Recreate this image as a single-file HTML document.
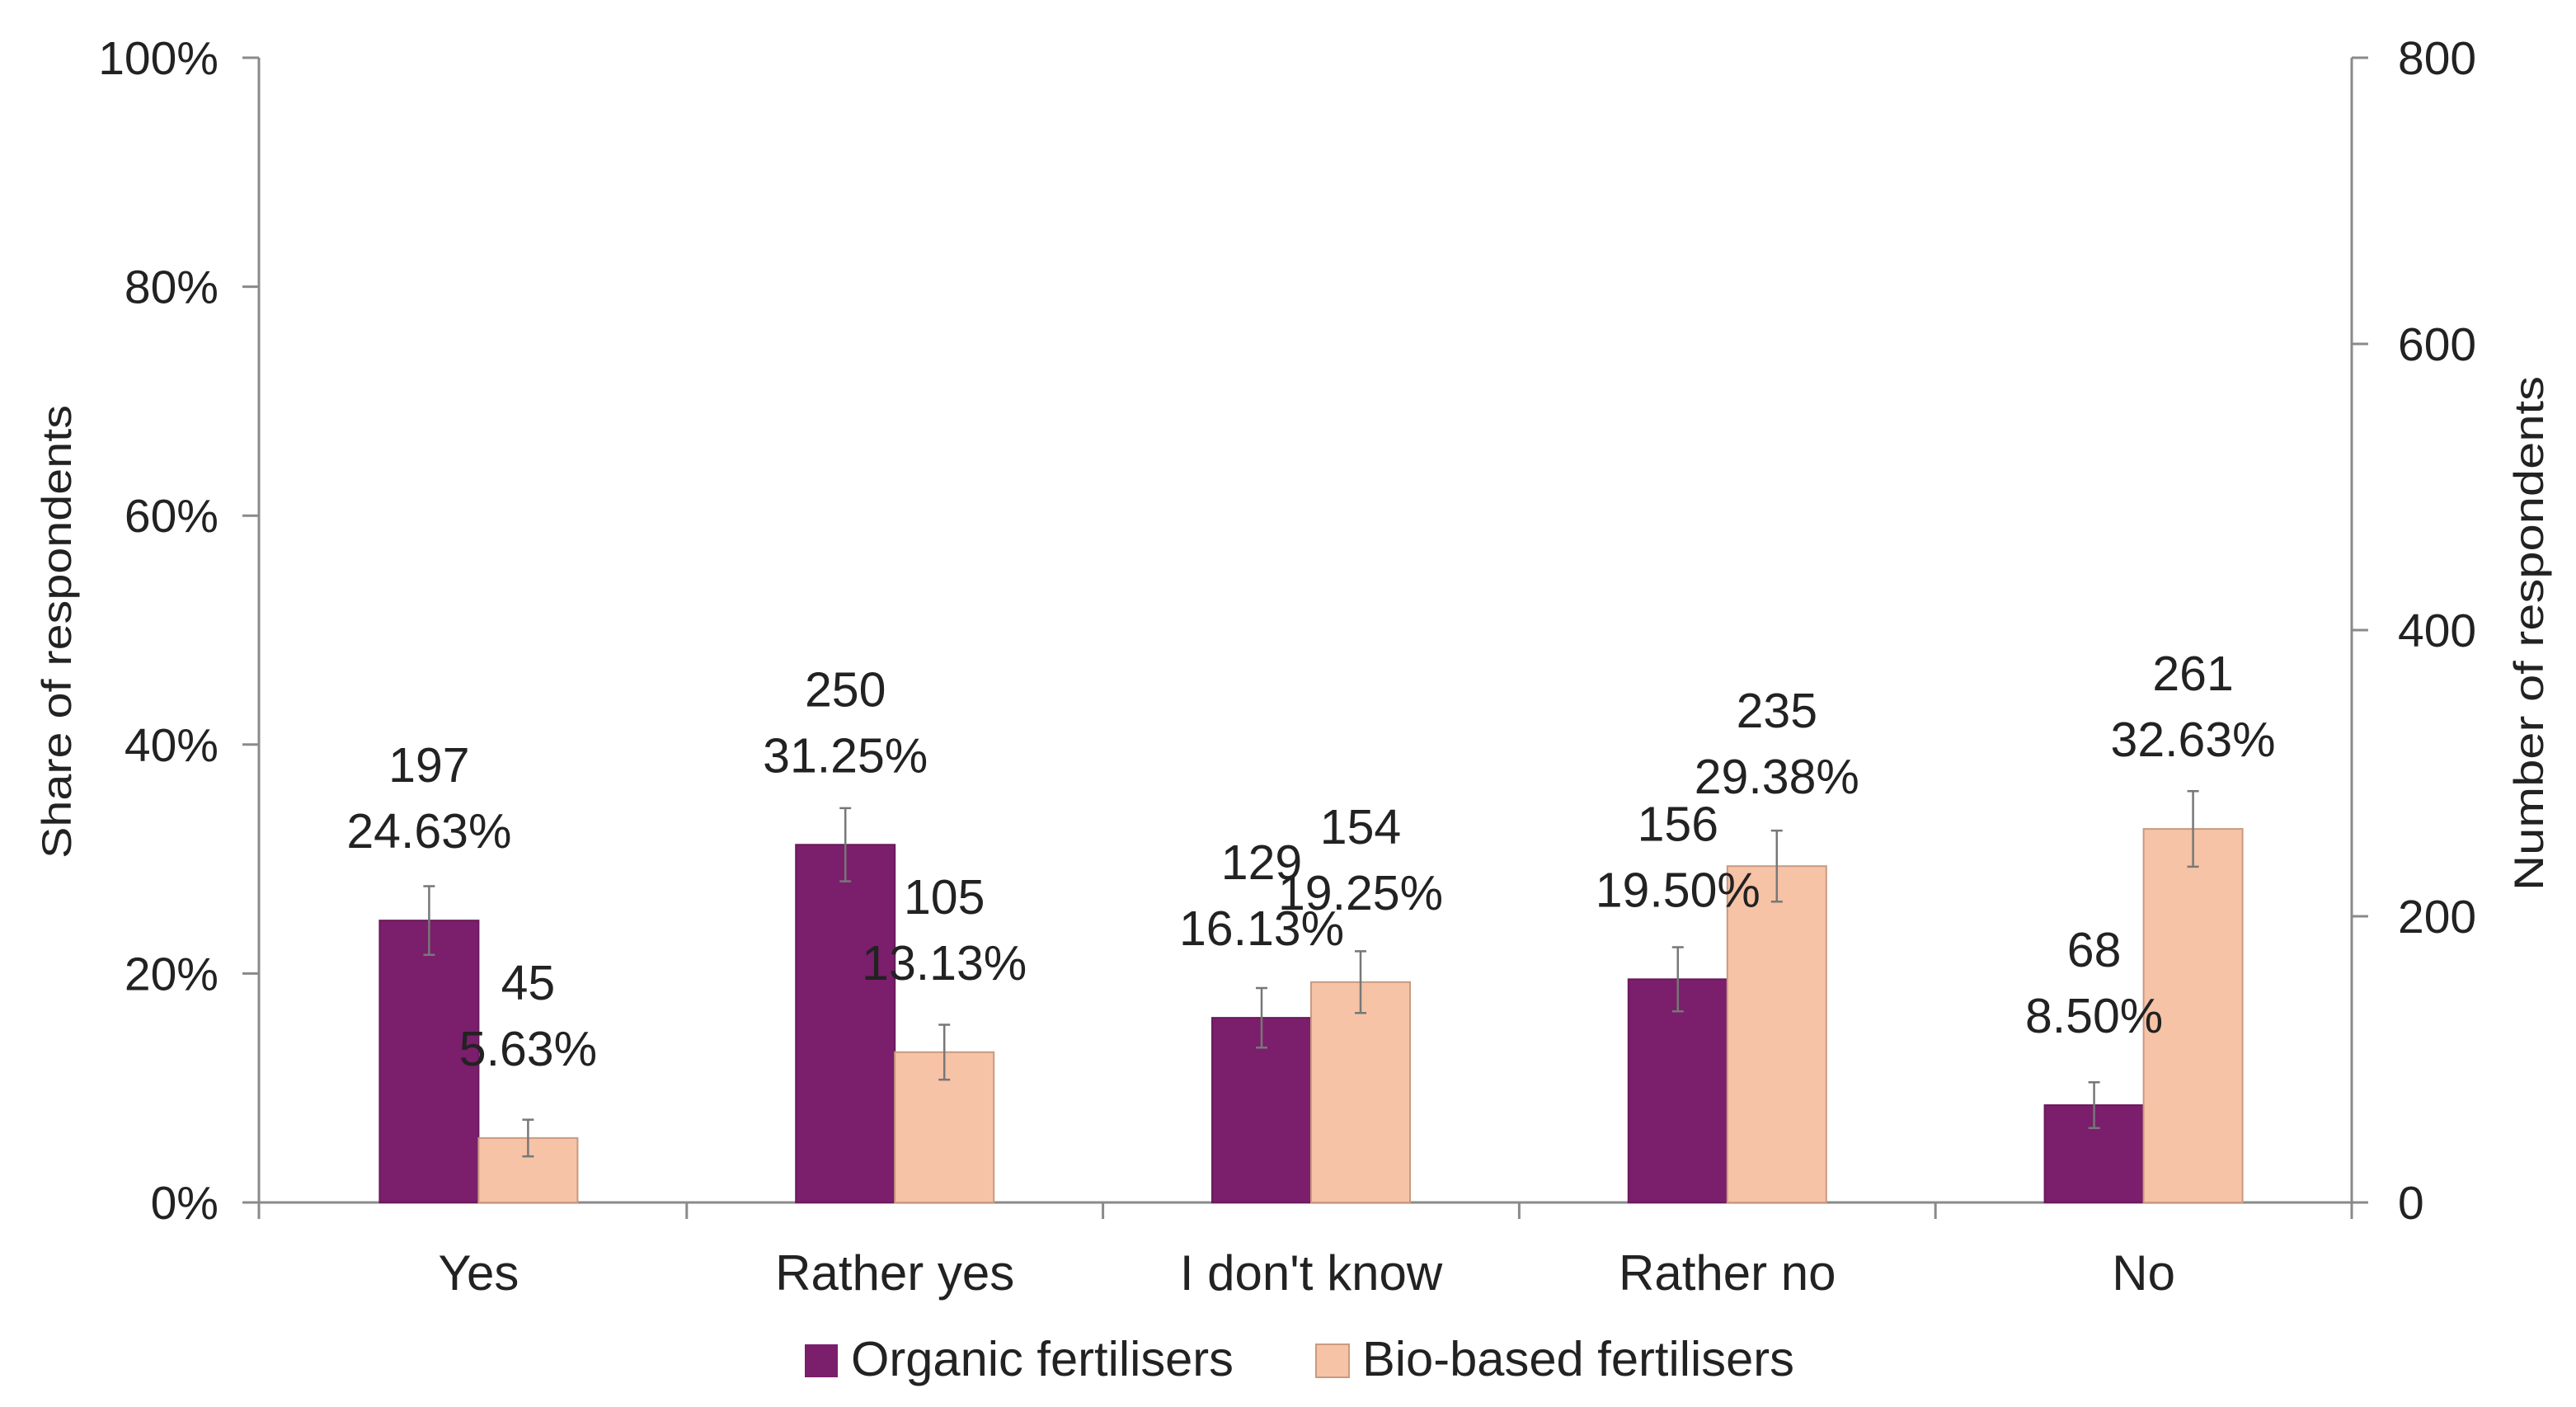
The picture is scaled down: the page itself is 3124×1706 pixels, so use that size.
<!DOCTYPE html>
<html><head><meta charset="utf-8"><style>
html,body{margin:0;padding:0;background:#fff;}
svg{display:block;font-family:"Liberation Sans",Arial,sans-serif;}
</style></head><body>
<svg id="chart" width="3124" height="1706" viewBox="0 0 3124 1706" xmlns="http://www.w3.org/2000/svg">
<rect x="0" y="0" width="3124" height="1706" fill="#fff"/>
<g id="grid"></g>
<g id="bars"></g>
<g id="labels"></g>
<text transform="translate(86,766) rotate(-90)" text-anchor="middle" font-size="50" fill="#222" textLength="550" lengthAdjust="spacingAndGlyphs">Share of respondents</text>
<text transform="translate(3084,768) rotate(-90)" text-anchor="middle" font-size="50" fill="#222" textLength="624" lengthAdjust="spacingAndGlyphs">Number of respondents</text>
<g>
<rect x="976" y="1630" width="40" height="40" fill="#7B1E6C"/>
<text x="1032" y="1668" font-size="59" fill="#222" textLength="464" lengthAdjust="spacingAndGlyphs">Organic fertilisers</text>
<rect x="1596" y="1630" width="40" height="40" fill="#F6C3A7" stroke="#c99a80" stroke-width="2"/>
<text x="1652" y="1668" font-size="59" fill="#222" textLength="524" lengthAdjust="spacingAndGlyphs">Bio-based fertilisers</text>
</g>
</svg>
<script>
const categories = ["Yes","Rather yes","I don't know","Rather no","No"];
const organicPct = [24.63,31.25,16.13,19.50,8.50];
const bioPct = [5.63,13.13,19.25,29.38,32.63];
const organicCount = [197,250,129,156,68];
const bioCount = [45,105,154,235,261];
const organicErr = [3.0,3.2,2.6,2.8,2.0];
const bioErr = [1.6,2.4,2.7,3.1,3.3];
const leftTicks = ["0%","20%","40%","60%","80%","100%"];
const leftTickVals = [0,20,40,60,80,100];
const rightTicks = ["0","200","400","600","800"];
const rightTickVals = [0,200,400,600,800];

const NS="http://www.w3.org/2000/svg";
const AXL=314,X0=328,X1=2852,Y0=1458,Y1=70;
const bandW=(X1-X0)/categories.length;
const barW=120;
const yPct=v=>Y0-(v/100)*(Y0-Y1);
const yCnt=v=>Y0-(v/800)*(Y0-Y1);
const xCenter=i=>X0+bandW*(i+0.5);
function mk(tag,attrs,parent,txt){const e=document.createElementNS(NS,tag);for(const k in attrs)e.setAttribute(k,attrs[k]);if(txt!==undefined)e.textContent=txt;parent.appendChild(e);return e;}
const grid=document.getElementById('grid'),bars=document.getElementById('bars'),labels=document.getElementById('labels');
const ax='#8a8a8a';
let e;
e=mk('line',{x1:AXL,y1:Y1,x2:AXL,y2:Y0+20,stroke:ax,'stroke-width':3},grid);


e=mk('line',{x1:X1,y1:Y1,x2:X1,y2:Y0+20,stroke:ax,'stroke-width':3},grid);


e=mk('line',{x1:AXL-20,y1:Y0,x2:X1+20,y2:Y0,stroke:ax,'stroke-width':3},grid);


leftTickVals.forEach((v,i)=>{const y=yPct(v);
 mk('line',{x1:AXL-20,y1:y,x2:AXL,y2:y,stroke:ax,'stroke-width':3},grid);
 e=mk('text',{x:265,y:y+20,'text-anchor':'end','font-size':57,fill:'#222'},labels,leftTicks[i]);
 
 
});
rightTickVals.forEach((v,i)=>{const y=yCnt(v);
 mk('line',{x1:X1,y1:y,x2:X1+20,y2:y,stroke:ax,'stroke-width':3},grid);
 e=mk('text',{x:2908,y:y+20,'text-anchor':'start','font-size':57,fill:'#222'},labels,rightTicks[i]);
 
 
});
for(let i=1;i<categories.length;i++){const x=X0+bandW*i;mk('line',{x1:x,y1:Y0,x2:x,y2:Y0+20,stroke:ax,'stroke-width':3},grid);}
categories.forEach((c,i)=>{
 const cx=xCenter(i);
 e=mk('text',{x:cx,y:1564,'text-anchor':'middle','font-size':60,fill:'#222'},labels,c);
 
 
 [[organicPct,organicCount,organicErr,'#7B1E6C','#6a1a5c',cx-barW,'organic'],[bioPct,bioCount,bioErr,'#F6C3A7','#c99a80',cx,'bio']].forEach(s=>{
  const v=s[0][i],top=yPct(v),x=s[5];
  e=mk('rect',{x:x,y:top,width:barW,height:Y0-top,fill:s[3],stroke:s[4],'stroke-width':2},bars);
  
  
  const bx=x+barW/2,hi=yPct(v+s[2][i]),lo=yPct(v-s[2][i]);
  e=mk('path',{d:`M${bx},${hi}V${lo}M${bx-7},${hi}H${bx+7}M${bx-7},${lo}H${bx+7}`,stroke:'#777','stroke-width':2.5,fill:'none'},bars);
  
  
  e=mk('text',{x:bx,y:top-168,'text-anchor':'middle','font-size':59,fill:'#222'},labels,String(s[1][i]));
  
  
  e=mk('text',{x:bx,y:top-88,'text-anchor':'middle','font-size':59,fill:'#222'},labels,s[0][i].toFixed(2)+'%');
  
  
 });
});
</script>
</body></html>
